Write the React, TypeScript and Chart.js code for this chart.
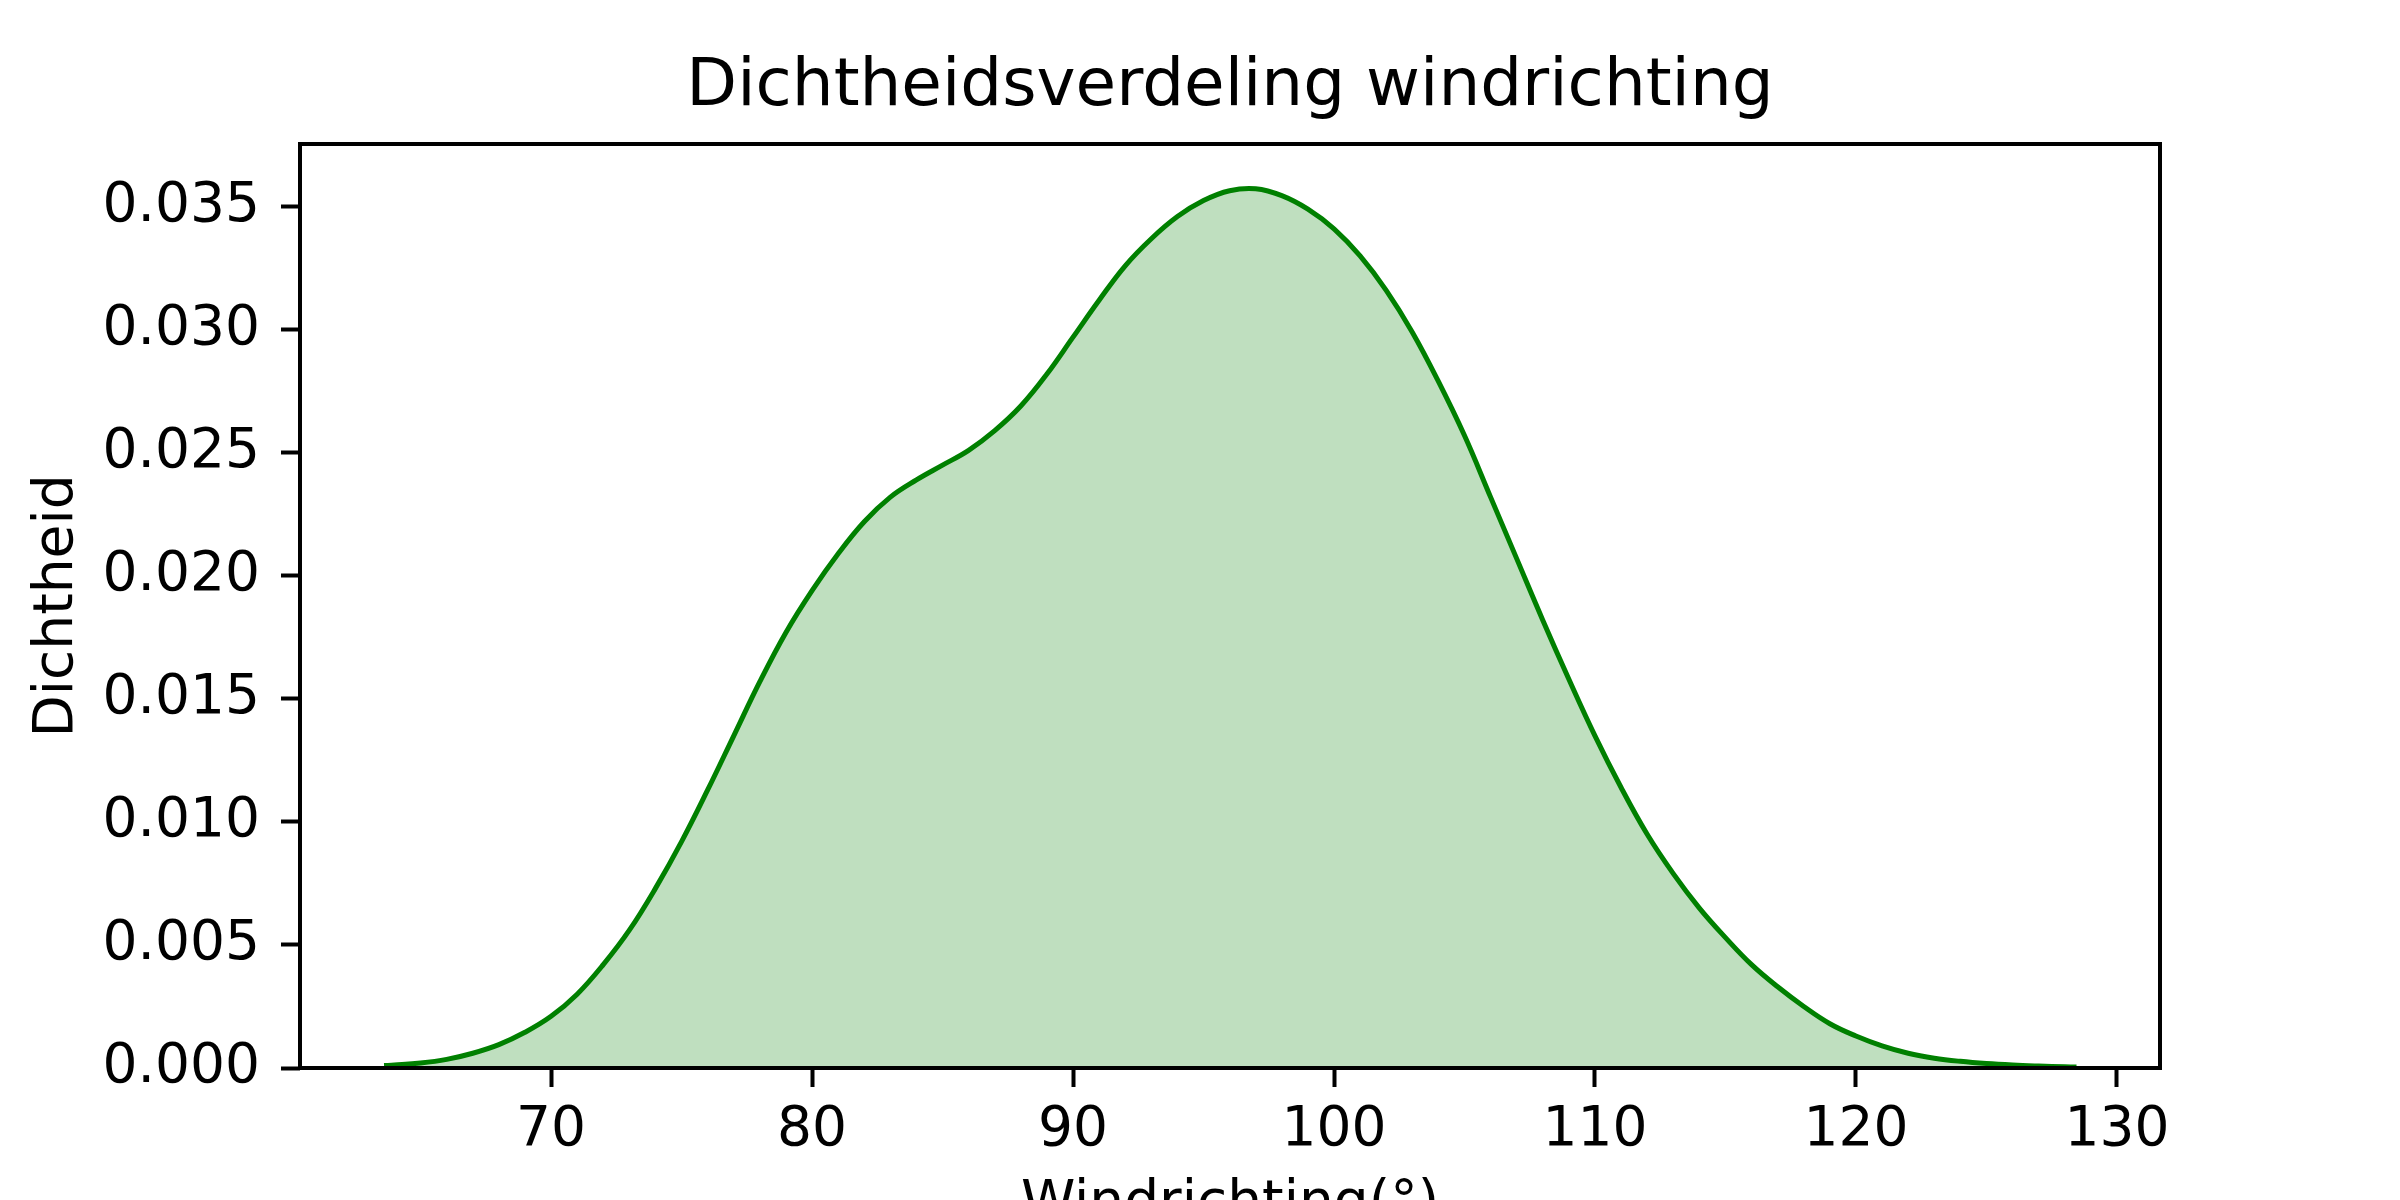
import React, { useEffect, useRef } from "react";
import { Chart, registerables } from "chart.js";

Chart.register(...registerables);

const chartTitle = "Dichtheidsverdeling windrichting";
const xAxisTitle = "Windrichting(°)";
const yAxisTitle = "Dichtheid";

// KDE curve (x = wind direction in degrees, y = density)
const windDirection = [
  63.6, 64, 65, 66, 67, 68, 69, 70, 71, 72, 73, 74, 75, 76, 77, 78, 79, 80, 81, 82,
  83, 84, 85, 86, 87, 88, 89, 90, 91, 92, 93, 94, 95, 96, 97, 98, 99, 100,
  101, 102, 103, 104, 105, 106, 107, 108, 109, 110, 111, 112, 113, 114, 115, 116,
  117, 118, 119, 120, 121, 122, 123, 124, 125, 126, 127, 128, 128.45,
];
const density = [
  0.0001, 0.00012, 0.0002, 0.00035, 0.0006, 0.00095, 0.00145, 0.0021, 0.003, 0.0042,
  0.0056, 0.0073, 0.0092, 0.0113, 0.0135, 0.0157, 0.0177, 0.0194, 0.0209, 0.0222,
  0.0232, 0.0239, 0.0245, 0.0251, 0.0259, 0.0269, 0.0282, 0.0297, 0.0312, 0.0326,
  0.0337, 0.0346, 0.03525, 0.03565, 0.03573, 0.03545, 0.0349, 0.0341, 0.033,
  0.0316, 0.0299, 0.0279, 0.0257, 0.0232, 0.0207, 0.0182, 0.0158, 0.0135, 0.0114,
  0.0095, 0.0079, 0.0065, 0.0053, 0.0042, 0.0033, 0.0025, 0.0018, 0.0013, 0.0009,
  0.0006, 0.0004, 0.00027, 0.00018, 0.00012, 0.00008, 0.00005, 0.00004,
];

const xTicks = [70, 80, 90, 100, 110, 120, 130];
const yTicks = [0, 0.005, 0.01, 0.015, 0.02, 0.025, 0.03, 0.035];

const X_MIN = 60.38;
const X_MAX = 131.65;
const Y_MIN = 0;
const Y_MAX = 0.03755;

const FONT_FAMILY = "'DejaVu Sans', sans-serif";

const framePlugin = {
  id: "frame",
  afterDraw(chart: any) {
    const { ctx, chartArea } = chart;
    ctx.save();
    ctx.strokeStyle = "#000";
    ctx.lineWidth = 4;
    ctx.strokeRect(
      chartArea.left,
      chartArea.top,
      chartArea.right - chartArea.left,
      chartArea.bottom - chartArea.top
    );
    ctx.restore();
  },
};

export default function App() {
  const canvasRef = useRef<HTMLCanvasElement | null>(null);

  useEffect(() => {
    if (!canvasRef.current) return;
    const tickFont = { family: FONT_FAMILY, size: 55, weight: "normal" as const, lineHeight: 1.2 };
    const chart = new Chart(canvasRef.current, {
      type: "line",
      data: {
        datasets: [
          {
            data: windDirection.map((x, i) => ({ x, y: density[i] })),
            borderColor: "#008000",
            borderWidth: 5,
            backgroundColor: "rgba(0,128,0,0.25)",
            fill: "origin",
            pointRadius: 0,
            pointHoverRadius: 0,
            tension: 0.4,
          },
        ],
      },
      options: {
        animation: false,
        responsive: false,
        devicePixelRatio: 1,
        events: [],
        layout: { padding: { left: 0, right: 240, top: 0, bottom: 0 } },
        plugins: {
          legend: { display: false },
          tooltip: { enabled: false },
          title: {
            display: true,
            text: chartTitle,
            fullSize: false,
            color: "#000",
            font: { family: FONT_FAMILY, size: 66, weight: "normal", lineHeight: 1.2 },
            padding: { top: 48.4, bottom: 16.4 },
          },
        },
        scales: {
          x: {
            type: "linear",
            min: X_MIN,
            max: X_MAX,
            afterBuildTicks: (s: any) => {
              s.ticks = xTicks.map((v) => ({ value: v }));
            },
            afterFit: (s: any) => {
              s.height = 232;
            },
            grid: {
              display: true,
              drawOnChartArea: false,
              drawTicks: true,
              tickLength: 19,
              tickWidth: 4,
              tickColor: "#000",
            },
            border: { display: false },
            ticks: {
              color: "#000",
              font: tickFont,
              padding: 11,
              maxRotation: 0,
              autoSkip: false,
              callback: (v: any) => String(v),
            },
            title: {
              display: true,
              text: xAxisTitle,
              color: "#000",
              font: tickFont,
              padding: { top: 0, bottom: 62 },
            },
          },
          y: {
            type: "linear",
            min: Y_MIN,
            max: Y_MAX,
            afterBuildTicks: (s: any) => {
              s.ticks = yTicks.map((v) => ({ value: v }));
            },
            afterFit: (s: any) => {
              s.width = 300;
            },
            grid: {
              display: true,
              drawOnChartArea: false,
              drawTicks: true,
              tickLength: 19,
              tickWidth: 4,
              tickColor: "#000",
            },
            border: { display: false },
            ticks: {
              color: "#000",
              font: tickFont,
              padding: 21,
              autoSkip: false,
              callback: (v: any) => Number(v).toFixed(3),
            },
            title: {
              display: true,
              text: yAxisTitle,
              color: "#000",
              font: tickFont,
              padding: { top: 24.5, bottom: 0 },
            },
          },
        },
      },
      plugins: [framePlugin],
    } as any);
    return () => chart.destroy();
  }, []);

  return (
    <div
      style={{
        position: "fixed",
        top: 0,
        left: 0,
        width: 2400,
        height: 1200,
        overflow: "hidden",
        background: "#fff",
      }}
    >
      <canvas ref={canvasRef} width={2400} height={1300} style={{ display: "block" }} />
    </div>
  );
}
